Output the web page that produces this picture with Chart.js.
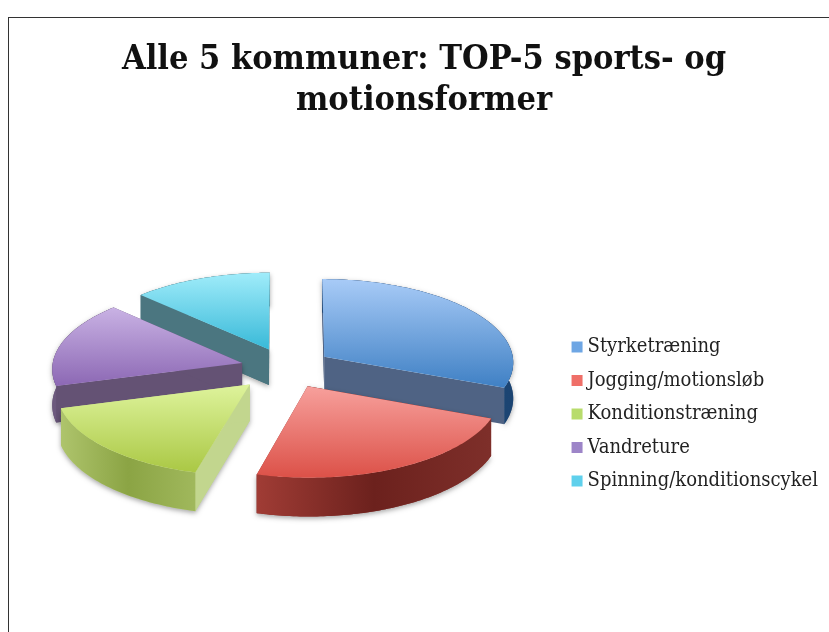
<!DOCTYPE html>
<html>
<head>
<meta charset="utf-8">
<title>TOP-5 sports- og motionsformer</title>
<script src="https://cdn.jsdelivr.net/npm/chart.js@4/dist/chart.umd.min.js"></script>
<style>
    html, body { margin: 0; padding: 0; background: #fff; overflow: hidden; }
    #frame { position: absolute; left: 8px; top: 17px; border-left: 1px solid #333; border-top: 1px solid #333; }
    canvas { display: block; }
</style>
</head>
<body>
<div id="frame"><canvas id="pieChart" width="830" height="792"></canvas></div>
<script>
const titleLines = ['Alle 5 kommuner: TOP-5 sports- og', 'motionsformer'];
const categories = ['Styrketræning', 'Jogging/motionsløb', 'Konditionstræning', 'Vandreture', 'Spinning/konditionscykel'];
const shares = [31, 23.1, 16.5, 16.7, 12.7];

const legendColors = ['#6ea6e4', '#ef6f68', '#b8dc6c', '#9d85c8', '#5fd0ec'];
const topLight = ['#a8cbf7', '#f7a09c', '#def39c', '#c9b2e4', '#a0ecfa'];
const topDark = ['#3f80c4', '#dc5148', '#aac844', '#8c68b4', '#38b9d8'];
const wallColors = ['#4f6384', '#8f3530', '#c2d68e', '#645274', '#4b7680'];
const rimLeft = ['#1b4472', '#a03c35', '#aec46c', '#6d5a7e', '#4b7680'];
const rimMid = ['#1f4a7a', '#6c211d', '#8ba444', '#645274', '#4b7680'];
const rimRight = ['#1b4472', '#7e2f2a', '#a0b85c', '#645274', '#4b7680'];

const pieRadius = 190;
const explode = [46, 46, 52, 46, 46];
const squash = 0.44;
const perspective = 0.06;
const thickness = 36;
const shiftX = -5;
const shiftY = -98;
const legendNudge = 11;

function project(el, dx, dy, z) {
    let f = 1 / (1 - perspective * dy / el.outerRadius);
    return {
        x: el.x + shiftX + dx * f,
        y: el.y + shiftY + (dy * squash + z) * f
    };
}

function tracePolygon(ctx, points) {
    ctx.beginPath();
    points.forEach((p, i) => {
        if (i == 0) ctx.moveTo(p.x, p.y);
        else ctx.lineTo(p.x, p.y);
    });
    ctx.closePath();
}

function drawSlice(ctx, el, index, offset) {
    let mid = (el.startAngle + el.endAngle) / 2;
    let ax = Math.cos(mid) * offset;
    let ay = Math.sin(mid) * offset;
    let steps = Math.ceil((el.endAngle - el.startAngle) * 60);
    let rim = [];
    for (let i = 0; i <= steps; i++) {
        let a = el.startAngle + (el.endAngle - el.startAngle) * i / steps;
        rim.push([ax + Math.cos(a) * el.outerRadius, ay + Math.sin(a) * el.outerRadius]);
    }
    let top = [project(el, ax, ay, 0)].concat(rim.map(r => project(el, r[0], r[1], 0)));
    let bottomRim = rim.map(r => project(el, r[0], r[1], thickness));
    let topRim = top.slice(1);
    let apexLow = project(el, ax, ay, thickness);

    ctx.save();
    ctx.shadowColor = 'rgba(0,0,0,0.35)';
    ctx.shadowBlur = 5;
    ctx.shadowOffsetY = 2;
    tracePolygon(ctx, top.concat(bottomRim.slice().reverse(), [apexLow]));
    ctx.fillStyle = wallColors[index];
    ctx.fill();
    ctx.restore();

    // side walls from the centre out to both ends of the rim
    ctx.fillStyle = wallColors[index];
    tracePolygon(ctx, [top[0], topRim[0], bottomRim[0], apexLow]);
    ctx.fill();
    tracePolygon(ctx, [top[0], topRim[steps], bottomRim[steps], apexLow]);
    ctx.fill();

    let xs = topRim.map(p => p.x);
    let rimGradient = ctx.createLinearGradient(Math.min(...xs), 0, Math.max(...xs), 0);
    rimGradient.addColorStop(0, rimLeft[index]);
    rimGradient.addColorStop(0.5, rimMid[index]);
    rimGradient.addColorStop(1, rimRight[index]);
    tracePolygon(ctx, topRim.concat(bottomRim.slice().reverse()));
    ctx.fillStyle = rimGradient;
    ctx.fill();

    let ys = top.map(p => p.y);
    let topGradient = ctx.createLinearGradient(0, Math.min(...ys), 0, Math.max(...ys));
    topGradient.addColorStop(0, topLight[index]);
    topGradient.addColorStop(1, topDark[index]);
    tracePolygon(ctx, top);
    ctx.fillStyle = topGradient;
    ctx.fill();
}

const tiltedPie = {
    id: 'tiltedPie',
    afterLayout(chart) {
        chart.legend.left -= legendNudge;
        chart.legend.right -= legendNudge;
    },
    beforeDatasetsDraw(chart) {
        let meta = chart.getDatasetMeta(0);
        let arcs = meta.data.map((arc, index) => ({
            index,
            offset: arc.options.offset,
            el: arc.getProps(['x', 'y', 'startAngle', 'endAngle', 'outerRadius'], true)
        }));
        arcs.sort((a, b) => Math.sin((a.el.startAngle + a.el.endAngle) / 2) - Math.sin((b.el.startAngle + b.el.endAngle) / 2));
        arcs.forEach(arc => drawSlice(chart.ctx, arc.el, arc.index, arc.offset));
        return false;
    }
};

new Chart(document.getElementById('pieChart').getContext('2d'), {
    type: 'pie',
    data: {
        labels: categories,
        datasets: [{
            data: shares,
            backgroundColor: legendColors,
            borderWidth: 0,
            offset: explode
        }]
    },
    options: {
        responsive: false,
        animation: false,
        radius: pieRadius,
        plugins: {
            title: {
                display: true,
                text: titleLines,
                color: '#111',
                font: { family: '"DejaVu Serif Condensed", "DejaVu Serif"', size: 34, weight: 'bold', lineHeight: 1.206 },
                padding: { top: 22, bottom: 0 }
            },
            legend: {
                position: 'right',
                labels: {
                    color: '#222',
                    usePointStyle: true,
                    pointStyle: 'rect',
                    boxWidth: 1,
                    boxHeight: 11,
                    padding: 13.5,
                    font: { family: '"DejaVu Serif Condensed", "DejaVu Serif"', size: 20 }
                }
            },
            tooltip: { enabled: false }
        }
    },
    plugins: [tiltedPie]
});
</script>
</body>
</html>
